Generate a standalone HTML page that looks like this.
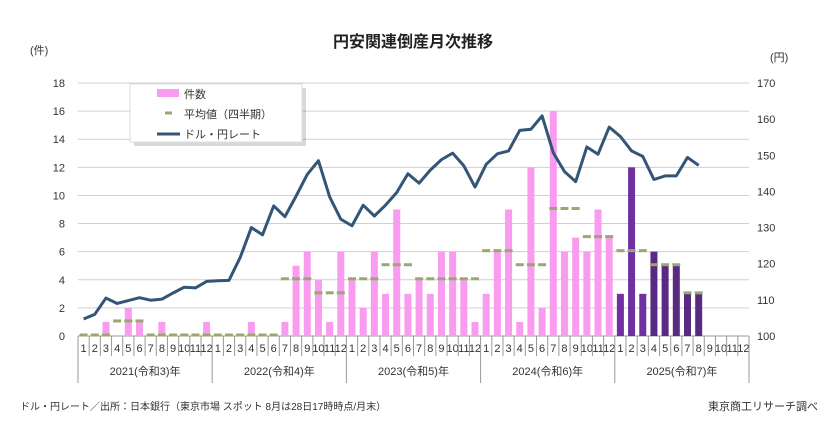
<!DOCTYPE html>
<html><head><meta charset="utf-8"><style>
body{margin:0;background:#fff;}
svg text{font-family:"Liberation Sans","Noto Sans CJK JP",sans-serif;}
</style></head><body>
<svg id="c" width="826" height="422" xmlns="http://www.w3.org/2000/svg">
<text x="413" y="47" text-anchor="middle" font-size="16" font-weight="bold" fill="#222">円安関連倒産月次推移</text>
<text x="30" y="54" font-size="11" fill="#333">(件)</text>
<text x="770" y="61" font-size="11" fill="#333">(円)</text>
<g id="grid"></g><g id="bars"></g><g id="avg"></g><g id="line"></g><g id="axis"></g>
<g>
<rect x="134" y="88" width="172" height="58" fill="#000" opacity="0.15"/>
<rect x="130" y="84" width="172" height="58" fill="#fff" stroke="#ddd"/>
<rect x="157" y="89" width="22" height="8" fill="#f99cf0"/>
<text x="184" y="98" font-size="11" fill="#333">件数</text>
<line x1="165" y1="113" x2="172" y2="113" stroke="#9aa870" stroke-width="3"/>
<text x="184" y="118" font-size="11" fill="#333">平均値（四半期）</text>
<line x1="157" y1="134" x2="180" y2="134" stroke="#345577" stroke-width="3"/>
<text x="184" y="138" font-size="11" fill="#333">ドル・円レート</text>
</g>
<text x="20" y="410" font-size="10" fill="#333">ドル・円レート／出所：日本銀行（東京市場 スポット 8月は28日17時時点/月末）</text>
<text x="818" y="410" text-anchor="end" font-size="11" fill="#333">東京商工リサーチ調べ</text>
</svg>
<script>
const years=["2021(令和3)年","2022(令和4)年","2023(令和5)年","2024(令和6)年","2025(令和7)年"];
const counts=[0,0,1,0,2,1,0,1,0,0,0,1, 0,0,0,1,0,0,1,5,6,4,1,6, 4,2,6,3,9,3,4,3,6,6,4,1, 3,6,9,1,12,2,16,6,7,6,9,7, 3,12,3,6,5,5,3,3];
const quarterAvg=[0,1,0,0, 0,0,4,3, 4,5,4,4, 6,5,9,7, 6,5,3];
const rate=[104.7,106,110.5,109,109.8,110.6,109.9,110.2,111.9,113.5,113.3,115.1, 115.3,115.4,121.7,130,128,136,133,138.7,144.7,148.5,138.5,132.3, 130.5,136.2,133.2,136.2,139.7,144.9,142.3,145.9,148.8,150.6,147.1,141.2, 147.5,150.4,151.2,156.9,157.2,160.9,150.7,145.5,142.7,152.3,150.3,157.8, 155.2,151.2,149.7,143.3,144.3,144.3,149.4,147.2];
const leftTicks=[0,2,4,6,8,10,12,14,16,18];
const rightTicks=[100,110,120,130,140,150,160,170];
const NS="http://www.w3.org/2000/svg";
const X0=78,X1=749,Y0=336,Y1=83,N=60,bw=(X1-X0)/N;
const yL=v=>Y0-(v/18)*(Y0-Y1);
const yR=v=>Y0-((v-100)/70)*(Y0-Y1);
const xC=i=>X0+bw*(i+0.5);
function mk(t,a,p){const e=document.createElementNS(NS,t);for(const k in a)e.setAttribute(k,a[k]);p.appendChild(e);return e;}
const grid=document.getElementById('grid'),axis=document.getElementById('axis');
leftTicks.forEach(v=>{
 const l=mk('line',{x1:X0,x2:X1,y1:yL(v),y2:yL(v),stroke:v?'#d0d0d0':'#999','stroke-width':1},grid);
 
 
 const t=mk('text',{x:65,y:yL(v)+4,'text-anchor':'end','font-size':11,fill:'#333'},axis);t.textContent=v;
 
 
});
rightTicks.forEach(v=>{
 const t=mk('text',{x:757,y:yR(v)+4,'font-size':11,fill:'#333'},axis);t.textContent=v;
 
 
});
const bars=document.getElementById('bars');
counts.forEach((v,i)=>{
 const col=i<48?'#f99cf0':(i<51?'#7030a0':'#5a2a82');
 const r=mk('rect',{x:xC(i)-3.5,y:yL(v),width:7,height:Y0-yL(v),fill:col},bars);
 
 
});
const avg=document.getElementById('avg');
quarterAvg.forEach((v,q)=>{
 for(let m=0;m<3;m++){const i=q*3+m;if(i>=counts.length)break;
  const l=mk('line',{x1:xC(i)-4,x2:xC(i)+4,y1:yL(v)-1,y2:yL(v)-1,stroke:'#9aa870','stroke-width':3},avg);
  
  }
});
const p=mk('polyline',{points:rate.map((v,i)=>xC(i)+','+yR(v)).join(' '),fill:'none',stroke:'#345577','stroke-width':3,'stroke-linejoin':'round'},document.getElementById('line'));


for(let i=0;i<=N;i++){
 const x=X0+bw*i, yb=(i%12===0)?383:356;
 mk('line',{x1:x,x2:x,y1:Y0,y2:yb,stroke:'#999','stroke-width':1},axis);
 if(i<N){const t=mk('text',{x:xC(i),y:352,'text-anchor':'middle','font-size':11,fill:'#333'},axis);t.textContent=(i%12)+1;
  
  }
}
years.forEach((y,k)=>{
 const t=mk('text',{x:X0+bw*(k*12+6),y:375,'text-anchor':'middle','font-size':11,fill:'#333'},axis);t.textContent=y;
 
 
});
</script>
</body></html>
